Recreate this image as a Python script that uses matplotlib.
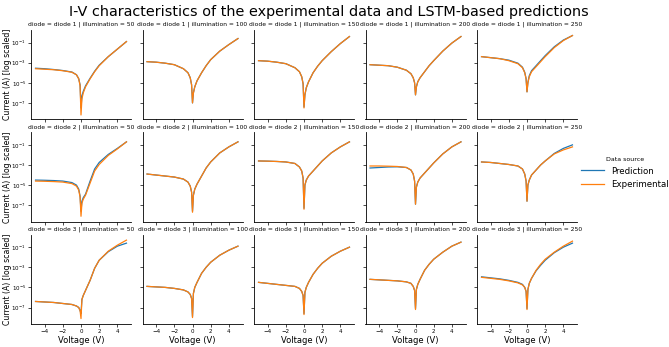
import matplotlib
matplotlib.use("Agg")
import matplotlib.pyplot as plt
from matplotlib.ticker import NullLocator
import numpy as np

# voltage grid shared by every panel
voltage = [-5, -4, -3, -2, -1, -0.5, -0.25, -0.1, 0, 0.1, 0.25, 0.5, 1, 1.5, 2, 3, 4, 5]

diodes = ["diode 1", "diode 2", "diode 3"]
illuminations = [50, 100, 150, 200, 250]

# log10 of the current (A)
exp_d1_50 = [-3.6, -3.65, -3.7, -3.8, -3.95, -4.2, -4.6, -5.3, -8.2, -6.6, -6.0, -5.4, -4.6, -3.9, -3.3, -2.4, -1.65, -0.9]
pred_d1_50 = [-3.55, -3.6, -3.68, -3.78, -3.93, -4.2, -4.6, -5.2, -7.5, -6.3, -5.85, -5.3, -4.55, -3.85, -3.25, -2.4, -1.65, -0.9]
exp_d1_100 = [-2.9, -2.95, -3.05, -3.2, -3.6, -4.0, -4.5, -5.2, -7.0, -6.0, -5.4, -4.8, -4.0, -3.3, -2.7, -1.85, -1.2, -0.6]
pred_d1_100 = [-2.9, -2.95, -3.05, -3.2, -3.6, -4.0, -4.5, -5.2, -7.0, -6.0, -5.4, -4.8, -4.0, -3.3, -2.7, -1.85, -1.2, -0.6]
exp_d1_150 = [-2.8, -2.85, -2.95, -3.1, -3.5, -3.9, -4.4, -5.1, -7.5, -6.2, -5.5, -4.9, -4.0, -3.35, -2.8, -1.9, -1.1, -0.4]
pred_d1_150 = [-2.8, -2.85, -2.95, -3.1, -3.5, -3.9, -4.4, -5.1, -7.4, -6.2, -5.5, -4.9, -4.0, -3.35, -2.8, -1.9, -1.1, -0.4]
exp_d1_200 = [-3.2, -3.25, -3.3, -3.45, -3.75, -4.1, -4.5, -5.0, -6.2, -5.4, -4.9, -4.5, -3.9, -3.3, -2.8, -1.85, -1.05, -0.4]
pred_d1_200 = [-3.2, -3.25, -3.3, -3.45, -3.75, -4.1, -4.5, -5.0, -6.2, -5.4, -4.9, -4.5, -3.9, -3.3, -2.8, -1.85, -1.05, -0.4]
exp_d1_250 = [-2.4, -2.5, -2.6, -2.8, -3.1, -3.5, -4.0, -4.6, -5.9, -5.0, -4.4, -3.9, -3.4, -2.9, -2.4, -1.5, -0.8, -0.3]
pred_d1_250 = [-2.4, -2.5, -2.6, -2.75, -3.05, -3.45, -3.95, -4.6, -5.9, -4.95, -4.3, -3.8, -3.3, -2.8, -2.3, -1.42, -0.75, -0.3]

exp_d2_50 = [-4.6, -4.62, -4.65, -4.7, -4.85, -5.1, -5.5, -6.2, -8.1, -6.8, -6.4, -6.0, -4.8, -3.6, -2.95, -2.05, -1.4, -0.7]
pred_d2_50 = [-4.5, -4.52, -4.55, -4.6, -4.75, -5.0, -5.4, -6.1, -7.6, -6.6, -6.25, -5.9, -4.6, -3.4, -2.75, -1.95, -1.35, -0.7]
exp_d2_100 = [-3.9, -4.0, -4.1, -4.2, -4.4, -4.7, -5.1, -5.7, -7.7, -6.0, -5.4, -4.9, -4.1, -3.3, -2.7, -1.8, -1.2, -0.7]
pred_d2_100 = [-3.9, -4.0, -4.1, -4.2, -4.4, -4.7, -5.1, -5.7, -7.6, -6.0, -5.4, -4.9, -4.1, -3.3, -2.7, -1.8, -1.2, -0.7]
exp_d2_150 = [-2.6, -2.62, -2.65, -2.7, -2.85, -3.2, -3.6, -4.3, -7.4, -5.0, -4.5, -4.1, -3.6, -3.1, -2.6, -1.8, -1.2, -0.7]
pred_d2_150 = [-2.6, -2.62, -2.65, -2.7, -2.85, -3.2, -3.6, -4.3, -7.3, -5.0, -4.5, -4.1, -3.6, -3.1, -2.6, -1.8, -1.2, -0.7]
exp_d2_200 = [-3.1, -3.1, -3.12, -3.15, -3.25, -3.5, -3.9, -4.6, -6.9, -5.2, -4.7, -4.3, -3.8, -3.3, -2.8, -1.9, -1.2, -0.7]
pred_d2_200 = [-3.3, -3.25, -3.2, -3.18, -3.25, -3.5, -3.9, -4.6, -6.9, -5.2, -4.7, -4.3, -3.8, -3.3, -2.8, -1.9, -1.2, -0.7]
exp_d2_250 = [-2.7, -2.75, -2.85, -2.95, -3.1, -3.4, -3.9, -4.6, -6.6, -5.0, -4.5, -4.0, -3.5, -3.0, -2.6, -1.9, -1.5, -1.2]
pred_d2_250 = [-2.7, -2.75, -2.85, -2.95, -3.1, -3.4, -3.9, -4.6, -6.6, -5.0, -4.5, -4.0, -3.5, -3.0, -2.6, -1.85, -1.35, -1.0]

exp_d3_50 = [-6.4, -6.45, -6.5, -6.6, -6.7, -6.85, -7.0, -7.3, -8.1, -6.2, -5.8, -5.3, -4.3, -3.1, -2.3, -1.4, -0.8, -0.3]
pred_d3_50 = [-6.4, -6.45, -6.5, -6.6, -6.7, -6.85, -7.0, -7.3, -7.6, -6.2, -5.8, -5.3, -4.3, -3.1, -2.3, -1.45, -0.9, -0.6]
exp_d3_100 = [-4.9, -4.95, -5.0, -5.1, -5.25, -5.45, -5.7, -6.1, -8.0, -5.6, -5.0, -4.5, -3.6, -3.0, -2.5, -1.8, -1.3, -0.9]
pred_d3_100 = [-4.9, -4.95, -5.0, -5.1, -5.25, -5.45, -5.7, -6.1, -7.9, -5.6, -5.0, -4.5, -3.6, -3.0, -2.5, -1.8, -1.3, -0.9]
exp_d3_150 = [-4.5, -4.6, -4.7, -4.8, -4.9, -5.1, -5.4, -5.8, -7.7, -5.5, -5.0, -4.5, -3.7, -3.1, -2.6, -1.9, -1.4, -1.0]
pred_d3_150 = [-4.5, -4.6, -4.7, -4.8, -4.9, -5.1, -5.4, -5.8, -7.6, -5.5, -5.0, -4.5, -3.7, -3.1, -2.6, -1.9, -1.4, -1.0]
exp_d3_200 = [-4.2, -4.25, -4.3, -4.35, -4.45, -4.6, -4.9, -5.3, -7.2, -5.2, -4.7, -4.2, -3.3, -2.7, -2.2, -1.5, -0.9, -0.5]
pred_d3_200 = [-4.2, -4.25, -4.3, -4.35, -4.45, -4.6, -4.9, -5.3, -7.1, -5.2, -4.7, -4.2, -3.3, -2.7, -2.2, -1.5, -0.9, -0.5]
exp_d3_250 = [-4.0, -4.1, -4.2, -4.35, -4.55, -4.75, -5.0, -5.4, -7.2, -5.2, -4.6, -4.1, -3.3, -2.7, -2.2, -1.5, -0.9, -0.4]
pred_d3_250 = [-3.95, -4.05, -4.15, -4.3, -4.5, -4.7, -5.0, -5.4, -7.1, -5.2, -4.6, -4.1, -3.35, -2.8, -2.3, -1.55, -1.0, -0.6]

experimental = [
  [exp_d1_50, exp_d1_100, exp_d1_150, exp_d1_200, exp_d1_250],
  [exp_d2_50, exp_d2_100, exp_d2_150, exp_d2_200, exp_d2_250],
  [exp_d3_50, exp_d3_100, exp_d3_150, exp_d3_200, exp_d3_250],
]
prediction = [
  [pred_d1_50, pred_d1_100, pred_d1_150, pred_d1_200, pred_d1_250],
  [pred_d2_50, pred_d2_100, pred_d2_150, pred_d2_200, pred_d2_250],
  [pred_d3_50, pred_d3_100, pred_d3_150, pred_d3_200, pred_d3_250],
]

W, H = 669, 347
fig = plt.figure(figsize=(W / 100, H / 100), dpi=100)

col_left = [31, 142.5, 254, 365.5, 477]
ax_w = 100
row_top = [30, 132.3, 234.6]
ax_h = 89.5

axes = []
for r, diode in enumerate(diodes):
  for c, illum in enumerate(illuminations):
    ax = fig.add_axes([col_left[c] / W, 1 - (row_top[r] + ax_h) / H, ax_w / W, ax_h / H])
    v = np.array(voltage)
    ax.plot(v, 10.0 ** np.array(prediction[r][c]), color="#1f77b4", lw=0.9, label="Prediction")
    ax.plot(v, 10.0 ** np.array(experimental[r][c]), color="#ff7f0e", lw=0.9, label="Experimental")
    ax.set_yscale("log")
    ax.set_yticks([1e-7, 1e-5, 1e-3, 1e-1])
    ax.yaxis.set_minor_locator(NullLocator())
    ax.set_xticks([-4, -2, 0, 2, 4])
    ax.set_ylim(10 ** -8.65, 10 ** 0.25)
    ax.set_xlim(-5.5, 5.5)
    ax.spines["top"].set_visible(False)
    ax.spines["right"].set_visible(False)
    for s in ("left", "bottom"):
      ax.spines[s].set_linewidth(0.6)
    ax.tick_params(labelsize=4.0, width=0.5, length=2.2, pad=1.5)
    ax.set_title(f"diode = {diode} | illumination = {illum}", fontsize=4.3, pad=3)
    if c > 0:
      ax.tick_params(labelleft=False)
    else:
      ax.set_ylabel("Current (A) [log scaled]", fontsize=5.6)
      ax.yaxis.set_label_coords(-19 / ax_w, 0.5)
    if r < 2:
      ax.tick_params(labelbottom=False)
    else:
      ax.set_xlabel("Voltage (V)", fontsize=6, labelpad=1.5)
    axes.append(ax)

fig.suptitle("I-V characteristics of the experimental data and LSTM-based predictions",
             fontsize=10.4, x=329 / W, y=1 - 12 / H, va="center")

handles, labels = axes[0].get_legend_handles_labels()
leg = fig.legend(handles, labels, title="Data source", loc="center left",
                 bbox_to_anchor=(578 / W, 1 - 173 / H), frameon=False,
                 fontsize=6.2, title_fontsize=4.5, handlelength=2.6,
                 handletextpad=0.8, borderaxespad=0.0, labelspacing=0.5)

fig.savefig("out.png", dpi=100)
